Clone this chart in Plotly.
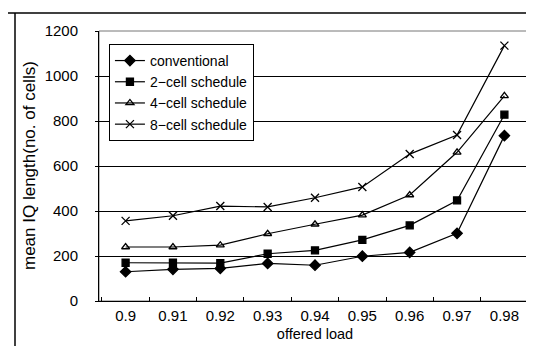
import plotly.graph_objects as go

loads = ["0.9", "0.91", "0.92", "0.93", "0.94", "0.95", "0.96", "0.97", "0.98"]
conventional = [130, 141, 145, 167, 159, 199, 216, 301, 735]
cell2 = [170, 170, 168, 210, 225, 272, 336, 447, 828]
cell4 = [240, 240, 248, 299, 341, 382, 471, 661, 912]
cell8 = [356, 379, 422, 418, 459, 507, 653, 738, 1135]
y_ticks = [0, 200, 400, 600, 800, 1000, 1200]

series = [
    ("conventional", conventional, "diamond", 8),
    ("2\u2212cell schedule", cell2, "square", 7),
    ("4\u2212cell schedule", cell4, "triangle-up-open", 7),
    ("8\u2212cell schedule", cell8, "x-thin-open", 8),
]

fig = go.Figure()
for name, vals, sym, sz in series:
    fig.add_trace(go.Scatter(
        x=loads, y=vals, name=name, mode="lines+markers",
        line=dict(color="black", width=1.2),
        marker=dict(symbol=sym, size=sz, color="black",
                    line=dict(color="black", width=1.3)),
    ))

font = "Liberation Sans, Arial, sans-serif"
W, H = 534, 346
L, R, T, B = 91, 11, 23, 53
pw, ph = W - L - R, H - T - B

def px(x):
    return (x - L) / pw

def py(y):
    return (H - B - y) / ph

fig.update_layout(
    width=W, height=H,
    margin=dict(l=L, r=R, t=T, b=B),
    paper_bgcolor="white", plot_bgcolor="white",
    font=dict(family=font, size=15, color="black"),
    showlegend=True,
    legend=dict(x=0.023, y=0.952, xanchor="left", yanchor="top",
                bordercolor="black", borderwidth=1, bgcolor="white",
                font=dict(size=14), tracegroupgap=0, itemwidth=30),
    xaxis=dict(type="category", showgrid=False, showline=True,
               linecolor="black", linewidth=1, ticks="inside",
               tickson="boundaries", ticklen=4, tickcolor="black",
               ticklabelstandoff=1,
               title=dict(text="offered load", standoff=5, font=dict(size=14.5)),
               tickfont=dict(size=15)),
    yaxis=dict(range=[0, 1200], tickvals=y_ticks, showgrid=True,
               gridcolor="black", gridwidth=1, showline=True,
               linecolor="black", linewidth=1, ticks="outside",
               ticklen=3, tickcolor="black", zeroline=False,
               ticklabelstandoff=14,
               tickfont=dict(size=15)),
    annotations=[
        dict(text="mean IQ length(no. of cells)", xref="paper", yref="paper",
             x=px(21), y=0.5, textangle=-90, showarrow=False,
             xanchor="center", yanchor="middle", font=dict(size=17)),
    ],
    shapes=[
        dict(type="rect", xref="paper", yref="paper", x0=0, x1=1, y0=0, y1=1,
             line=dict(color="#777777", width=1), layer="below"),
        dict(type="line", xref="paper", yref="paper",
             x0=px(0), x1=px(W), y0=py(5), y1=py(5),
             line=dict(color="black", width=1.5), layer="below"),
        dict(type="line", xref="paper", yref="paper",
             x0=px(7), x1=px(7), y0=py(5), y1=py(H),
             line=dict(color="black", width=1.5), layer="below"),
    ],
)

fig.write_html("out.html")
